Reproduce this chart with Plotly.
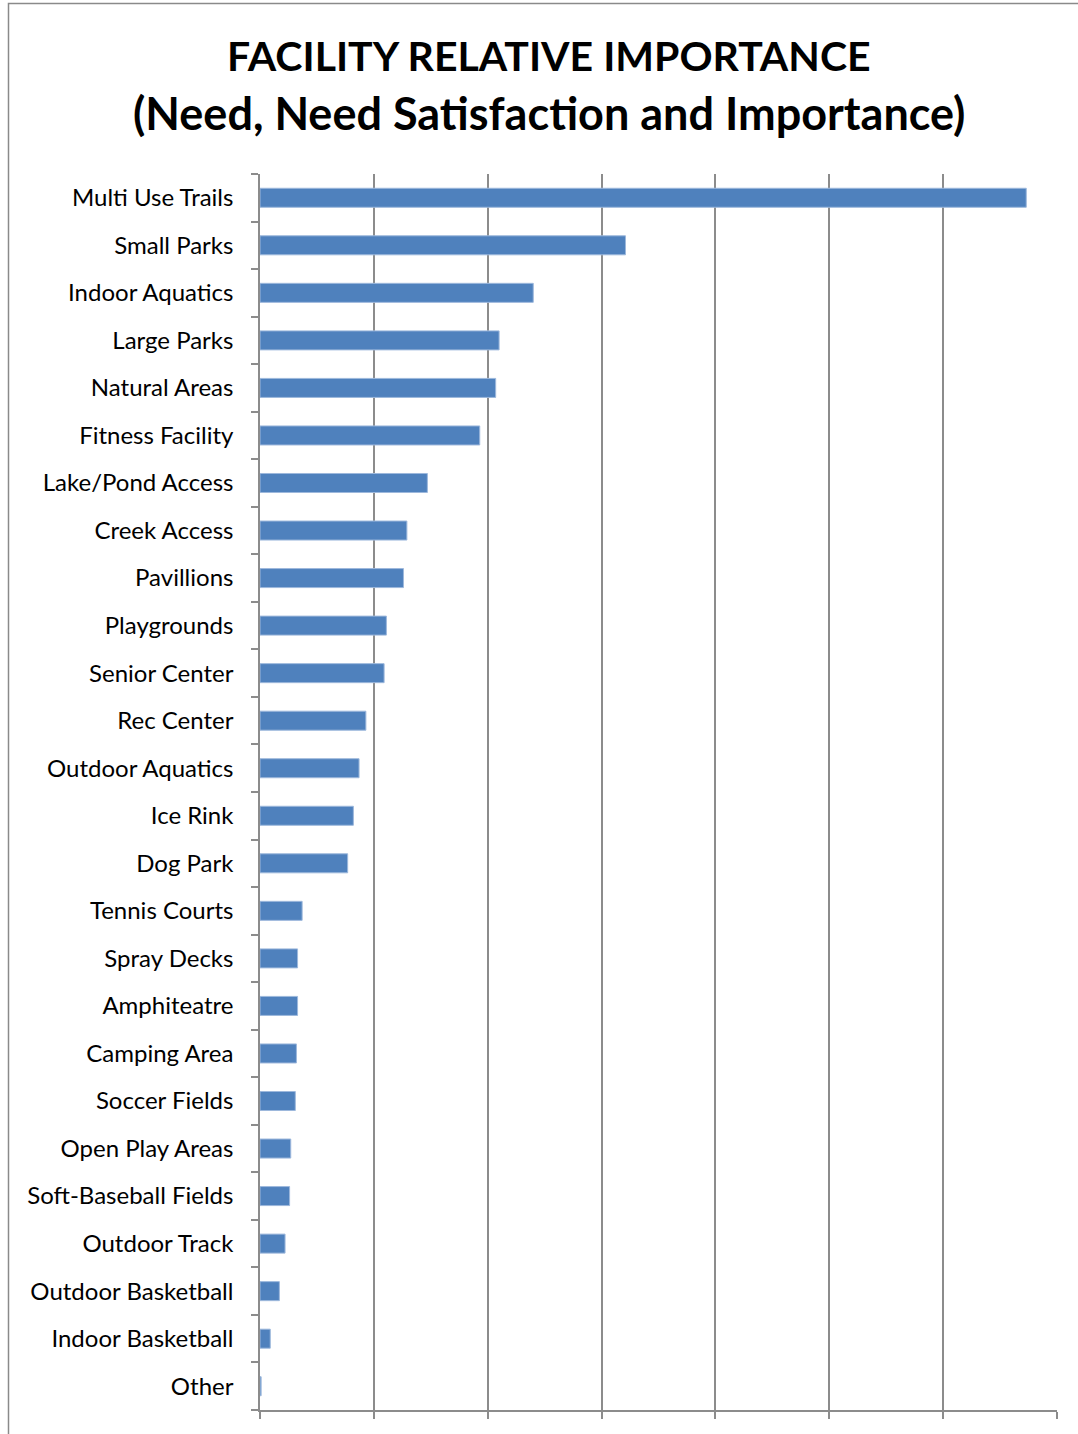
import plotly.graph_objects as go

categories = ["Multi Use Trails", "Small Parks", "Indoor Aquatics", "Large Parks", "Natural Areas",
              "Fitness Facility", "Lake/Pond Access", "Creek Access", "Pavillions", "Playgrounds",
              "Senior Center", "Rec Center", "Outdoor Aquatics", "Ice Rink", "Dog Park",
              "Tennis Courts", "Spray Decks", "Amphiteatre", "Camping Area", "Soccer Fields",
              "Open Play Areas", "Soft-Baseball Fields", "Outdoor Track", "Outdoor Basketball",
              "Indoor Basketball", "Other"]
values = [6.73, 3.21, 2.40, 2.10, 2.07, 1.93, 1.47, 1.29, 1.26, 1.11, 1.09, 0.93, 0.87, 0.82,
          0.77, 0.37, 0.33, 0.33, 0.32, 0.31, 0.27, 0.26, 0.22, 0.17, 0.09, 0.01]
title_lines = ["FACILITY RELATIVE IMPORTANCE", "(Need, Need Satisfaction and Importance)"]

W, H = 1078, 1434
L, T = 260, 174
R = W - 1057
B = H - 1410
pw, ph = W - L - R, H - T - B

fig = go.Figure(go.Bar(
    x=values, y=categories, orientation="h",
    marker=dict(color="#4F81BD", line=dict(color="#9DB8DC", width=1)),
))

grid = "#8c8c8c"
fig.update_layout(
    width=W, height=H, autosize=False,
    margin=dict(l=L, r=R, t=T, b=B),
    paper_bgcolor="white", plot_bgcolor="white",
    showlegend=False, bargap=0.6,
    font=dict(family="Lato, 'Open Sans', sans-serif", size=24, color="black"),
)
fig.update_xaxes(range=[0, 7], dtick=1, tick0=0, showgrid=True, gridcolor=grid, gridwidth=1.5,
                 showline=True, linecolor=grid, linewidth=1.5, ticks="outside", ticklen=7,
                 tickcolor=grid, tickwidth=1.5, showticklabels=False, zeroline=False, fixedrange=True)
fig.update_yaxes(categoryorder="array", categoryarray=categories[::-1], autorange=False,
                 range=[-0.5, len(categories) - 0.5], tickson="boundaries",
                 showline=True, linecolor=grid, linewidth=1.5, ticks="outside", ticklen=7,
                 tickcolor=grid, tickwidth=1.5, showgrid=False, ticklabelstandoff=20,
                 tickfont=dict(size=24), fixedrange=True)

def px_x(p):
    return (p - L) / pw

def px_y(p):
    return (H - B - p) / ph

for txt, cy, fs in zip(title_lines, [55, 113], [41, 45]):
    fig.add_annotation(text="<b>%s</b>" % txt, xref="paper", yref="paper",
                       x=px_x(549), y=px_y(cy), xanchor="center", yanchor="middle",
                       showarrow=False, font=dict(size=fs, family="Lato, sans-serif", color="black"))

fig.add_shape(type="rect", xref="paper", yref="paper",
              x0=px_x(8.5), x1=px_x(1100), y0=px_y(1460), y1=px_y(3.5),
              line=dict(color="#8a8a8a", width=1.5), layer="below")

fig.write_html("out.html", config={"displayModeBar": False},
               post_script="document.body.style.margin='0';document.body.style.overflow='hidden';")
